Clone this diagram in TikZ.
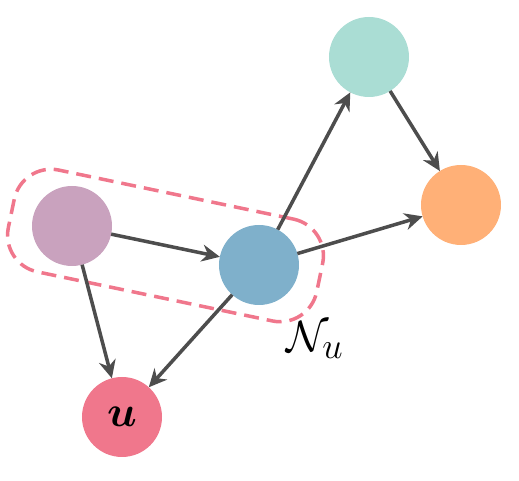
\documentclass[tikz,border=0pt]{standalone}
\usepackage{amsmath}
\usepackage{amssymb}
\usepackage{bm}
\usepackage{tikz}
\usetikzlibrary{arrows.meta,positioning,calc}

\definecolor{cmauve}{HTML}{C9A2BE}
\definecolor{cblue}{HTML}{7FB0CB}
\definecolor{cteal}{HTML}{AADDD4}
\definecolor{corange}{HTML}{FFB077}
\definecolor{cpink}{HTML}{F0778C}
\definecolor{cedge}{HTML}{4D4D4D}

\begin{document}
\begin{tikzpicture}[
  x=1cm,y=1cm,
  vnode/.style={circle,minimum size=1.6cm,inner sep=0pt,outer sep=0pt},
  edge/.style={line width=2pt,draw=cedge,-{Stealth[length=0.36cm,width=0.34cm]}},
  hood/.style={draw=cpink,line width=2pt,dash pattern=on 0.3cm off 0.16cm,
    rounded corners=0.75cm,minimum width=6.3cm,minimum height=2.08cm},
  lab/.style={font=\fontsize{30}{36}\selectfont}
]
\useasboundingbox (0,0) rectangle (10.38,9.62);

% ---------------- nodes ----------------
\node[vnode,fill=cmauve]  (p) at (1.44,5.10) {};
\node[vnode,fill=cblue]   (b) at (5.18,4.32) {};
\node[vnode,fill=cteal]   (t) at (7.38,8.48) {};
\node[vnode,fill=corange] (o) at (9.22,5.52) {};
\node[vnode,fill=cpink,lab] (u) at (2.44,1.28) {$\bm{u}$};

% ---------------- neighbourhood ----------------
\node[hood,rotate=-11.8] (nb) at ($(p)!0.5!(b)$) {};
\node[lab] (nl) at (6.30,2.82) {$\mathcal{N}_u$};

% ---------------- edges ----------------
\draw[edge] (p)--(b);
\draw[edge] (p)--(u);
\draw[edge] (b)--(u);
\draw[edge] (b)--(t);
\draw[edge] (b)--(o);
\draw[edge] (t)--(o);

\end{tikzpicture}
\end{document}
